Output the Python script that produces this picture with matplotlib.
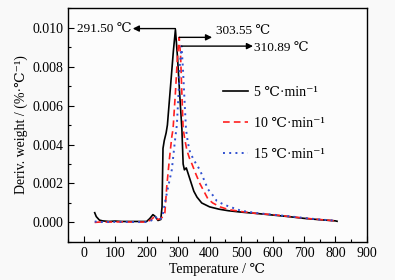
import matplotlib
matplotlib.use("Agg")
import matplotlib.pyplot as plt
from matplotlib.ticker import MultipleLocator

plt.rcParams['font.family'] = ['Liberation Serif', 'DejaVu Serif', 'Noto Sans CJK SC']
plt.rcParams['font.size'] = 10
plt.rcParams['axes.unicode_minus'] = False

# 5 C/min
t5 = [35, 40, 50, 60, 80, 100, 120, 150, 180, 200, 210, 220, 228, 236, 245, 249, 252, 256,
      262, 266, 275, 285, 291.5, 298, 305, 312, 316, 320, 326, 332, 340, 350, 360, 375, 400,
      430, 460, 500, 550, 600, 650, 700, 750, 800, 805]
d5 = [0.0005, 0.0003, 0.00012, 0.00008, 0.00005, 0.00007, 0.00005, 0.00005, 0.00005, 0.00005,
      0.0002, 0.0004, 0.0003, 0.0001, 0.00015, 0.0008, 0.0038, 0.0042, 0.0046, 0.0050, 0.0068,
      0.0088, 0.0099, 0.0085, 0.0066, 0.0048, 0.0030, 0.0027, 0.0028, 0.0025, 0.0021, 0.0016,
      0.0013, 0.00100, 0.00080, 0.00068, 0.00060, 0.00053, 0.00046, 0.00038, 0.00030, 0.00021,
      0.00014, 0.00008, 0.00006]

# 10 C/min
t10 = [35, 50, 80, 120, 160, 200, 215, 225, 235, 245, 252, 258, 264, 272, 280, 284, 292,
       298, 303.55, 308, 312, 316, 322, 328, 336, 344, 356, 369, 382, 395, 410, 433, 460,
       500, 550, 600, 650, 700, 750, 800]
d10 = [0.0, 0.00002, 0.00002, 0.00003, 0.00002, 0.00002, 0.00015, 0.0003, 0.00015, 0.0002,
       0.0003, 0.0005, 0.00185, 0.0032, 0.0044, 0.0048, 0.0068, 0.0085, 0.0095, 0.0085,
       0.0066, 0.0048, 0.0042, 0.0037, 0.0033, 0.0030, 0.0025, 0.0020, 0.0016, 0.0012,
       0.00100, 0.00080, 0.00066, 0.00056, 0.00046, 0.00040, 0.00031, 0.00022, 0.00015,
       0.00008]

# 15 C/min
t15 = [35, 50, 80, 120, 160, 200, 215, 228, 238, 245, 250, 258, 268, 280, 290, 296, 302,
       306, 310.89, 315, 320, 325, 331, 338, 350, 369, 382, 395, 410, 423, 445, 465, 500,
       550, 600, 650, 700, 750, 800]
d15 = [0.00005, 0.00002, 0.00002, 0.00003, 0.00002, 0.00002, 0.0001, 0.00028, 0.00012,
       0.0002, 0.0003, 0.0010, 0.0018, 0.0027, 0.0042, 0.0050, 0.0068, 0.0082, 0.00905,
       0.0080, 0.0064, 0.0048, 0.0041, 0.0036, 0.0032, 0.0027, 0.0022, 0.0017, 0.0014,
       0.0011, 0.00092, 0.00080, 0.00060, 0.00048, 0.00040, 0.00032, 0.00023, 0.00015,
       0.00009]

peaks = [(291.50, 0.00995), (303.55, 0.0095), (310.89, 0.00905)]
peak_labels = ['291.50 ℃', '303.55 ℃', '310.89 ℃']
labels = ['5 ℃·min⁻¹', '10 ℃·min⁻¹', '15 ℃·min⁻¹']

fig = plt.figure(figsize=(3.95, 2.8), dpi=100, facecolor='#f9f9f9')
ax = fig.add_axes([0.172, 0.136, 0.757, 0.835])
ax.set_facecolor('#fcfcfc')

ax.plot(t5, d5, color='black', lw=1.2, label=labels[0])
ax.plot(t10, d10, color='#ff2020', lw=1.2, ls=(0, (4, 2.5)), label=labels[1])
ax.plot(t15, d15, color='#3050d0', lw=1.4, ls=(0, (1, 2.2)), label=labels[2])

# peak arrows
arrow = dict(arrowstyle='-|>', color='black', lw=1.0, mutation_scale=9,
             shrinkA=0, shrinkB=0)
ax.annotate('', xy=(156, peaks[0][1]), xytext=peaks[0], arrowprops=arrow)
ax.text(152, peaks[0][1], peak_labels[0], ha='right', va='center', fontsize=9.5)
ax.annotate('', xy=(408, peaks[1][1]), xytext=peaks[1], arrowprops=arrow)
ax.text(420, 0.00985, peak_labels[1], ha='left', va='center', fontsize=9.5)
ax.annotate('', xy=(538, peaks[2][1]), xytext=peaks[2], arrowprops=arrow)
ax.text(540, 0.00895, peak_labels[2], ha='left', va='center', fontsize=9.5)

ax.legend(loc='upper left', bbox_to_anchor=(0.477, 0.72), frameon=False,
          handlelength=1.8, labelspacing=1.3, handletextpad=0.4)

ax.set_xlim(-50, 900)
ax.set_ylim(-0.001, 0.011)
ax.xaxis.set_major_locator(MultipleLocator(100))
ax.xaxis.set_minor_locator(MultipleLocator(50))
ax.yaxis.set_major_locator(MultipleLocator(0.002))
ax.yaxis.set_minor_locator(MultipleLocator(0.001))
ax.yaxis.set_major_formatter(plt.FormatStrFormatter('%.3f'))
ax.tick_params(which='both', direction='in', top=False, right=False)
ax.tick_params(which='major', length=4, width=0.8)
ax.tick_params(which='minor', length=2, width=0.8)
for s in ax.spines.values():
    s.set_linewidth(1.0)

ax.set_xlabel('Temperature / ℃', labelpad=2)
ax.set_ylabel('Deriv. weight / (%·℃⁻¹)', labelpad=3)

fig.savefig('out.png', dpi=100, facecolor=fig.get_facecolor())
